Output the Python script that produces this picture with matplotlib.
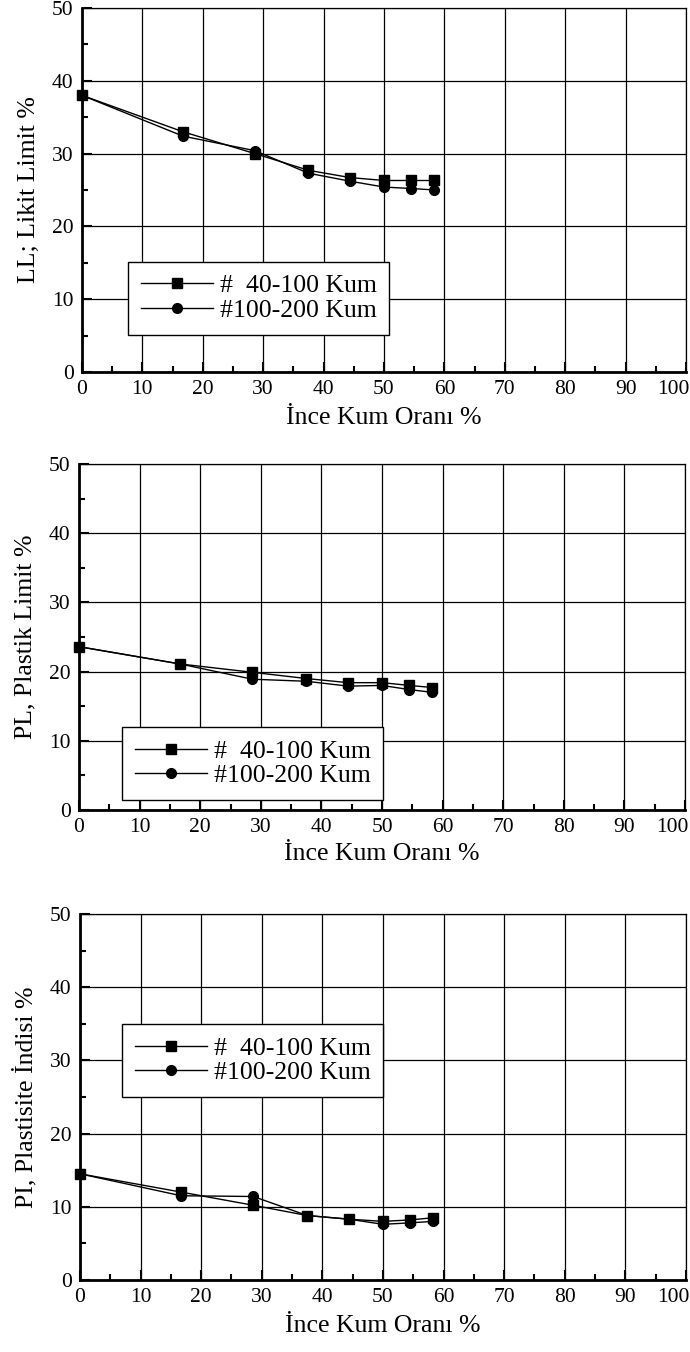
import numpy as np
import matplotlib
matplotlib.use("Agg")
import matplotlib.pyplot as plt
from matplotlib.ticker import MultipleLocator, FuncFormatter

plt.rcParams['font.family'] = ['Liberation Serif', 'DejaVu Serif']

# fine sand ratio (%)
ince_kum = [0, 16.7, 28.6, 37.5, 44.4, 50.0, 54.5, 58.3]

# liquid limit
ll_40_100 = [38.0, 33.0, 30.0, 27.7, 26.7, 26.3, 26.3, 26.3]
ll_100_200 = [38.0, 32.4, 30.4, 27.3, 26.2, 25.4, 25.2, 25.0]

# plastic limit
pl_40_100 = [23.6, 21.1, 19.9, 19.0, 18.4, 18.4, 18.0, 17.7]
pl_100_200 = [23.6, 21.1, 18.9, 18.6, 17.9, 18.0, 17.4, 17.0]

# plasticity index
pi_40_100 = [14.5, 12.0, 10.2, 8.8, 8.3, 8.0, 8.2, 8.5]
pi_100_200 = [14.5, 11.5, 11.4, 8.8, 8.3, 7.6, 7.8, 8.0]

seri_adlari = ['#  40-100 Kum', '#100-200 Kum']
y_etiketleri = ['LL; Likit Limit %', 'PL, Plastik Limit %', 'PI, Plastisite İndisi %']
x_etiketi = 'İnce Kum Oranı %'

fig = plt.figure(figsize=(6.9, 13.52), dpi=100)

# axes rectangles in figure fraction
konumlar = [
    [0.1188, 0.7249, 0.8754, 0.2692],
    [0.1145, 0.4009, 0.8783, 0.2559],
    [0.1159, 0.0533, 0.8783, 0.2707],
]
lejant_yeri = [(0.076, 0.303), (0.071, 0.24), (0.069, 0.70)]

veriler = [(ll_40_100, ll_100_200), (pl_40_100, pl_100_200), (pi_40_100, pi_100_200)]


def x_bicim(v, pos):
    # the 100 label is drawn separately so it stays inside the figure
    return '' if v >= 100 else f'{v:.0f}'


for i, (seri1, seri2) in enumerate(veriler):
    ax = fig.add_axes(konumlar[i])
    ax.plot(ince_kum, seri1, color='black', lw=1.0, marker='s', ms=6.5,
            label=seri_adlari[0], clip_on=False, zorder=3)
    ax.plot(ince_kum, seri2, color='black', lw=1.0, marker='o', ms=7,
            label=seri_adlari[1], clip_on=False, zorder=3)

    ax.set_xlim(0, 100)
    ax.set_ylim(0, 50)
    ax.xaxis.set_major_locator(MultipleLocator(10))
    ax.xaxis.set_minor_locator(MultipleLocator(5))
    ax.xaxis.set_major_formatter(FuncFormatter(x_bicim))
    ax.yaxis.set_major_locator(MultipleLocator(10))
    ax.yaxis.set_minor_locator(MultipleLocator(5))
    ax.grid(True, which='major', color='black', lw=0.9)
    ax.set_axisbelow(True)

    for s in ['top', 'right']:
        ax.spines[s].set_linewidth(0.9)
    for s in ['left', 'bottom']:
        ax.spines[s].set_linewidth(2.0)

    ax.tick_params(which='both', direction='in', top=False, right=False,
                   labelsize=15.5, pad=6)
    ax.tick_params(which='major', length=7, width=1.5)
    ax.tick_params(which='minor', length=4, width=1.5)

    ax.annotate('100', xy=(1, 0), xycoords='axes fraction',
                xytext=(2.5, -6), textcoords='offset points',
                ha='right', va='top', fontsize=15.5)

    ax.set_xlabel(x_etiketi, fontsize=18.5)
    ax.set_ylabel(y_etiketleri[i], fontsize=18.5)
    ax.xaxis.set_label_coords(0.5, -0.095)
    ax.yaxis.set_label_coords(-0.07, 0.5)

    leg = ax.legend(loc='upper left', bbox_to_anchor=lejant_yeri[i],
                    borderaxespad=0, fontsize=18.5, frameon=True,
                    fancybox=False, edgecolor='black', framealpha=1,
                    handlelength=2.8, handletextpad=0.27, borderpad=0.5,
                    labelspacing=0.05)
    leg.get_frame().set_linewidth(1.0)

fig.savefig('out.png', dpi=100)
